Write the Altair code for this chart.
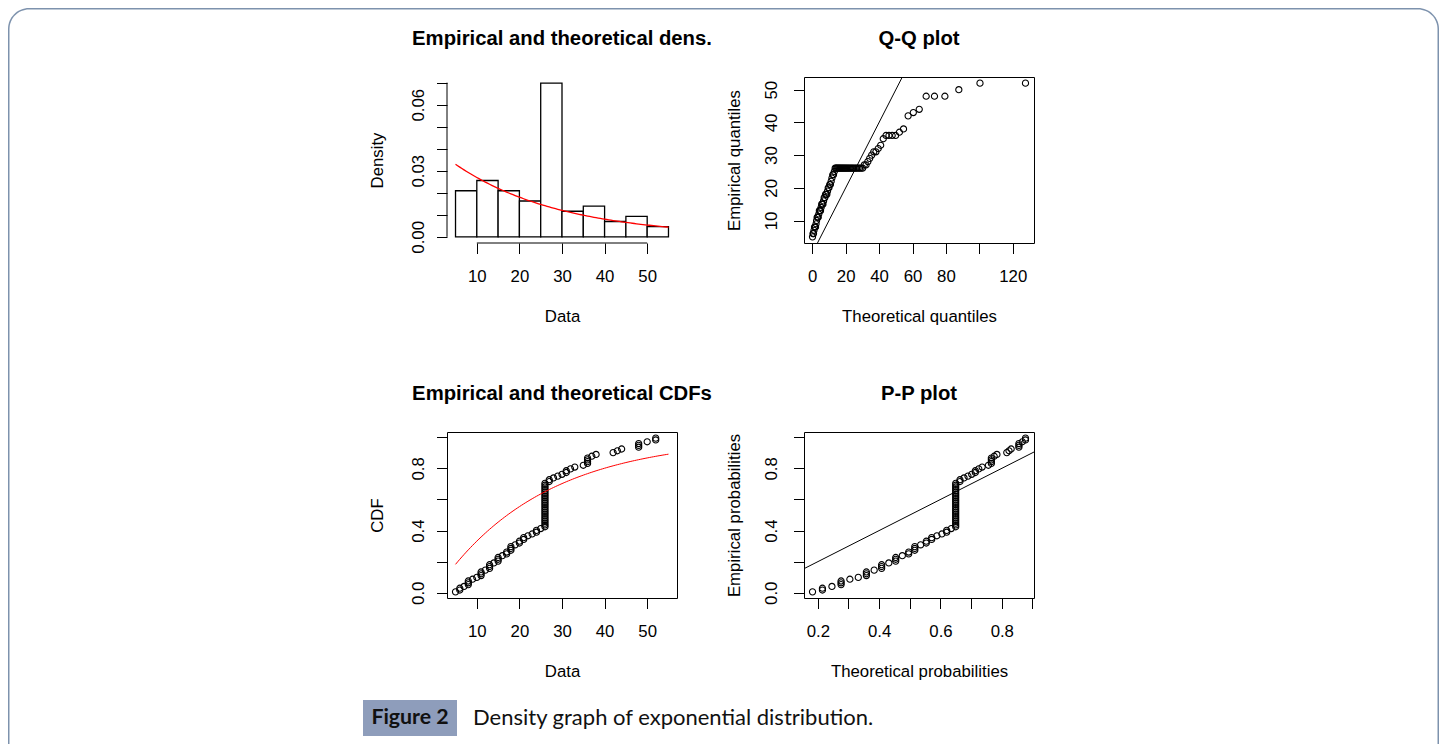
import altair as alt
import numpy as np
import pandas as pd

# ---- observed sample (distinct values and how often each occurs) ----
values = [5, 6, 7, 8, 9, 10, 11, 12, 13, 14, 15, 16, 17, 18, 19, 20, 21, 22, 23, 24, 25,
          26, 27, 28, 29, 30, 31, 32, 33, 35, 36, 37, 38, 42, 43, 44, 48, 50, 52]
counts = [1, 2, 1, 3, 1, 1, 3, 1, 3, 1, 3, 1, 2, 3, 1, 2, 2, 1, 1, 2, 1,
          25, 2, 1, 1, 1, 2, 1, 1, 1, 4, 1, 1, 1, 1, 1, 3, 1, 2]
breaks = [5, 10, 15, 20, 25, 30, 35, 40, 45, 50, 55]

titles = ["Empirical and theoretical dens.", "Q-Q plot",
          "Empirical and theoretical CDFs", "P-P plot"]
caption_label = "Figure 2"
caption_text = "Density graph of exponential distribution."

FONT = "Liberation Sans"
LAB = 16.8
TIT = 20.3
W, H = 230, 166

# ---- derived quantities (fit of an exponential law) ----
s = np.sort(np.repeat(values, counts).astype(float))
n = len(s)
rate = 1.0 / s.mean()
pp = (np.arange(1, n + 1) - 0.5) / n
binw = breaks[1] - breaks[0]
hist_rows = []
for i in range(len(breaks) - 1):
    lo, hi = breaks[i], breaks[i + 1]
    if i == 0:
        c = np.sum((s >= lo) & (s <= hi))
    else:
        c = np.sum((s > lo) & (s <= hi))
    hist_rows.append({"lo": lo, "hi": hi, "base": 0.0, "dens": c / (n * binw)})
hist_df = pd.DataFrame(hist_rows)

xg = np.linspace(breaks[0], breaks[-1], 101)
curve_df = pd.DataFrame({"x": xg, "d": rate * np.exp(-rate * xg), "F": 1 - np.exp(-rate * xg)})

th_q = -np.log(1 - pp) / rate
th_p = 1 - np.exp(-rate * s)
pts_df = pd.DataFrame({"s": s, "pp": pp, "q": th_q, "p": th_p})


def ext(lo, hi):
    d = (hi - lo) * 0.04
    return [lo - d, hi + d]


dens_max = max(hist_df["dens"].max(), curve_df["d"].max())
x1_dom = ext(breaks[0], breaks[-1])
y1_dom = ext(0, dens_max)
x2_dom = ext(th_q.min(), th_q.max())
y2_dom = ext(s.min(), s.max())
y34_dom = ext(pp.min(), pp.max())
x4_dom = ext(th_p.min(), th_p.max())


def xaxis(title, vals, label_expr="datum.label"):
    return alt.Axis(values=vals, title=title, grid=False, tickSize=10.5, tickColor="black",
                    domain=False, labelFont=FONT, labelFontSize=LAB, labelColor="black",
                    labelPadding=15, labelFlush=False, labelOverlap=False, labelBound=False,
                    labelExpr=label_expr, zindex=2,
                    titleFont=FONT, titleFontSize=LAB, titleFontWeight="normal", titleColor="black",
                    titleY=73, titleBaseline="middle")


def yaxis(title, vals, label_expr, pad):
    return alt.Axis(values=vals, title=title, grid=False, tickSize=10.5, tickColor="black",
                    domain=False, labelFont=FONT, labelFontSize=LAB, labelColor="black",
                    labelAngle=270, labelAlign="center", labelBaseline="bottom",
                    labelPadding=pad, labelFlush=False, labelOverlap=False, labelBound=False,
                    labelExpr=label_expr, zindex=2,
                    titleFont=FONT, titleFontSize=LAB, titleFontWeight="normal", titleColor="black",
                    titleAngle=270, titleAlign="center", titleBaseline="middle", titleX=-70)


one = pd.DataFrame({"k": [0]})
box = alt.ViewBackground(stroke="black", strokeWidth=1)


def title_mark(t):
    return alt.Chart(one).mark_text(font=FONT, fontSize=TIT, fontWeight="bold", color="black",
                                    align="center", baseline="middle").encode(
        x=alt.value(W / 2), y=alt.value(-38), text=alt.value(t))


# ---------- panel 1: histogram + density (also carries the page frame and caption) ----------
sx1 = alt.Scale(domain=x1_dom, nice=False, zero=False)
sy1 = alt.Scale(domain=y1_dom, nice=False, zero=False)

FRAME_BOTTOM = 667
frame_outer = alt.Chart(one).mark_rect(fill="#7d92ad", cornerRadiusTopLeft=21,
                                       cornerRadiusTopRight=21).encode(
    x=alt.value(-439), x2=alt.value(992), y=alt.value(-69), y2=alt.value(FRAME_BOTTOM))
frame_inner = alt.Chart(one).mark_rect(fill="white", cornerRadiusTopLeft=19.5,
                                       cornerRadiusTopRight=19.5).encode(
    x=alt.value(-437.5), x2=alt.value(990.5), y=alt.value(-67.5), y2=alt.value(FRAME_BOTTOM))
cap_box = alt.Chart(one).mark_rect(fill="#8e9dbb").encode(
    x=alt.value(-84), x2=alt.value(10), y=alt.value(623), y2=alt.value(659))
cap_lab = alt.Chart(one).mark_text(font="Lato", fontSize=21.3, fontWeight="bold", color="#111111",
                                   align="center", baseline="middle").encode(
    x=alt.value(-37), y=alt.value(641), text=alt.value(caption_label))
cap_txt = alt.Chart(one).mark_text(font="Lato", fontSize=22, color="#111111",
                                   align="left", baseline="middle").encode(
    x=alt.value(26), y=alt.value(641), text=alt.value(caption_text))

ax1x = xaxis("Data", [10, 20, 30, 40, 50])
ax1y = yaxis("Density", [0, 0.01, 0.02, 0.03, 0.04, 0.05, 0.06, 0.07],
             "abs(datum.value) < 0.001 ? '0.00' : abs(datum.value - 0.03) < 0.001 ? '0.03' : abs(datum.value - 0.06) < 0.001 ? '0.06' : ''",
             9.5)
bars = alt.Chart(hist_df).mark_rect(fill="white", stroke="black", strokeWidth=1.3).encode(
    x=alt.X("lo:Q", scale=sx1, axis=ax1x), x2="hi:Q",
    y=alt.Y("base:Q", scale=sy1, axis=ax1y), y2="dens:Q")
dcurve = alt.Chart(curve_df).mark_line(color="red", strokeWidth=1.3).encode(
    x=alt.X("x:Q", scale=sx1, axis=ax1x), y=alt.Y("d:Q", scale=sy1, axis=ax1y))
xline1 = alt.Chart(pd.DataFrame({"a": [10], "b": [50]})).mark_rule(color="black", strokeWidth=1).encode(
    x=alt.X("a:Q", scale=sx1, axis=ax1x), x2="b:Q", y=alt.value(H))
yline1 = alt.Chart(pd.DataFrame({"a": [0.0], "b": [0.07]})).mark_rule(color="black", strokeWidth=1).encode(
    y=alt.Y("a:Q", scale=sy1, axis=ax1y), y2="b:Q", x=alt.value(0))
p1 = alt.layer(frame_outer, frame_inner, cap_box, cap_lab, cap_txt, bars, dcurve, xline1, yline1,
               title_mark(titles[0])).properties(width=W, height=H)

# ---------- panel 2: Q-Q ----------
sx2 = alt.Scale(domain=x2_dom, nice=False, zero=False)
sy2 = alt.Scale(domain=y2_dom, nice=False, zero=False)
ax2x = xaxis("Theoretical quantiles", [0, 20, 40, 60, 80, 100, 120],
             "datum.value == 100 ? '' : datum.label")
ax2y = yaxis("Empirical quantiles", [10, 20, 30, 40, 50], "datum.label", 13)
qq_pts = alt.Chart(pts_df).mark_point(shape="circle", filled=False, color="black", size=38,
                                      strokeWidth=1.1, opacity=1).encode(
    x=alt.X("q:Q", scale=sx2, axis=ax2x), y=alt.Y("s:Q", scale=sy2, axis=ax2y))
qq_line = alt.Chart(pd.DataFrame({"v": y2_dom})).mark_line(color="black", strokeWidth=1).encode(
    x=alt.X("v:Q", scale=sx2, axis=ax2x), y=alt.Y("v:Q", scale=sy2, axis=ax2y))
p2 = alt.layer(qq_pts, qq_line, title_mark(titles[1])).properties(width=W, height=H, view=box)

# ---------- panel 3: CDF ----------
sx3 = alt.Scale(domain=x1_dom, nice=False, zero=False)
sy3 = alt.Scale(domain=y34_dom, nice=False, zero=False)
prob_ticks = [0, 0.2, 0.4, 0.6, 0.8, 1.0]
prob_lab = "(abs(datum.value - 0.2) < 0.01 || abs(datum.value - 0.6) < 0.01 || datum.value > 0.99) ? '' : format(datum.value, '.1f')"
ax3x = xaxis("Data", [10, 20, 30, 40, 50])
ax3y = yaxis("CDF", prob_ticks, prob_lab, 9.5)
cdf_pts = alt.Chart(pts_df).mark_point(shape="circle", filled=False, color="black", size=38,
                                       strokeWidth=1.1, opacity=1).encode(
    x=alt.X("s:Q", scale=sx3, axis=ax3x), y=alt.Y("pp:Q", scale=sy3, axis=ax3y))
cdf_curve = alt.Chart(curve_df).mark_line(color="red", strokeWidth=1).encode(
    x=alt.X("x:Q", scale=sx3, axis=ax3x), y=alt.Y("F:Q", scale=sy3, axis=ax3y))
p3 = alt.layer(cdf_pts, cdf_curve, title_mark(titles[2])).properties(width=W, height=H, view=box)

# ---------- panel 4: P-P ----------
sx4 = alt.Scale(domain=x4_dom, nice=False, zero=False)
sy4 = alt.Scale(domain=y34_dom, nice=False, zero=False)
ax4x = xaxis("Theoretical probabilities", [0.2, 0.3, 0.4, 0.5, 0.6, 0.7, 0.8, 0.9],
             "(abs(datum.value - 0.2) < 0.01 || abs(datum.value - 0.4) < 0.01 || abs(datum.value - 0.6) < 0.01 || abs(datum.value - 0.8) < 0.01) ? format(datum.value, '.1f') : ''")
ax4y = yaxis("Empirical probabilities", prob_ticks, prob_lab, 13)
pp_pts = alt.Chart(pts_df).mark_point(shape="circle", filled=False, color="black", size=38,
                                      strokeWidth=1.1, opacity=1).encode(
    x=alt.X("p:Q", scale=sx4, axis=ax4x), y=alt.Y("pp:Q", scale=sy4, axis=ax4y))
pp_line = alt.Chart(pd.DataFrame({"v": x4_dom})).mark_line(color="black", strokeWidth=1).encode(
    x=alt.X("v:Q", scale=sx4, axis=ax4x), y=alt.Y("v:Q", scale=sy4, axis=ax4y))
p4 = alt.layer(pp_pts, pp_line, title_mark(titles[3])).properties(width=W, height=H, view=box)

chart = alt.ConcatChart(concat=[p1, p2, p3, p4], columns=2,
                        spacing={"row": 189, "column": 127}, bounds="flush").properties(
    padding=0, background="white"
).configure_view(stroke=None)

chart.save("out.html", embed_options={"renderer": "svg", "actions": False})
